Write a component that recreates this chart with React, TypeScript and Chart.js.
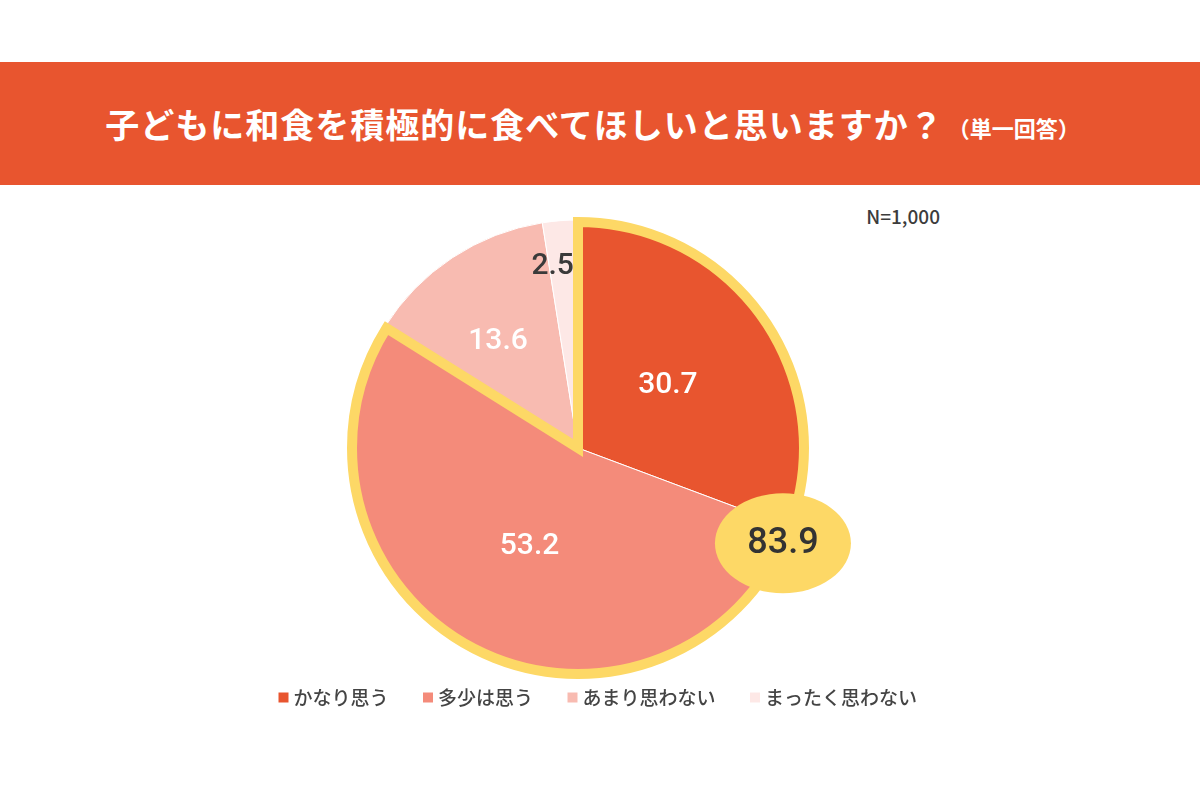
import React, { useEffect, useRef } from "react";
import { Chart, registerables } from "chart.js";

Chart.register(...registerables);

const categories = ["かなり思う", "多少は思う", "あまり思わない", "まったく思わない"];
const values = [30.7, 53.2, 13.6, 2.5];
const sliceColors = ["#E8552F", "#F48B7A", "#F8BBB1", "#FDE8E6"];
const labelColors = ["#ffffff", "#ffffff", "#ffffff", "#3a3a3a"];
const highlightIndices = [0, 1];
const titleText = "子どもに和食を積極的に食べてほしいと思いますか？";
const subTitleText = "（単一回答）";
const sampleText = "N=1,000";

const YELLOW = "#FDD866";
const HEADER = "#E8552F";
const LABEL_RADIUS = [0.48, 0.48, 0.62, 0.8];
const LABEL_SHIFT = [
  [0, 0],
  [0, 0],
  [-2, 11],
  [-11, 0],
];

const overlayPlugin = {
  id: "overlay",
  afterDatasetsDraw(chart: any) {
    const meta = chart.getDatasetMeta(0);
    const arcs = meta.data as any[];
    if (!arcs.length) return;
    const ctx: CanvasRenderingContext2D = chart.ctx;
    const first = arcs[highlightIndices[0]];
    const last = arcs[highlightIndices[highlightIndices.length - 1]];
    const x = first.x;
    const y = first.y;
    const R = first.outerRadius;
    const start = first.startAngle;
    const end = last.endAngle;

    ctx.save();
    // combined yellow outline
    const r2 = R - 2;
    ctx.beginPath();
    ctx.moveTo(x, y);
    ctx.lineTo(x + Math.cos(start) * r2, y + Math.sin(start) * r2);
    ctx.arc(x, y, r2, start, end);
    ctx.closePath();
    ctx.strokeStyle = YELLOW;
    ctx.lineWidth = 10;
    ctx.lineJoin = "miter";
    ctx.miterLimit = 10;
    ctx.stroke();

    // value labels
    ctx.textAlign = "center";
    ctx.textBaseline = "middle";
    ctx.font = "500 30px Roboto";
    arcs.forEach((arc, i) => {
      const mid = (arc.startAngle + arc.endAngle) / 2;
      const rr = arc.outerRadius * LABEL_RADIUS[i];
      const lx = x + Math.cos(mid) * rr + LABEL_SHIFT[i][0];
      const ly = y + Math.sin(mid) * rr + LABEL_SHIFT[i][1];
      ctx.fillStyle = labelColors[i];
      ctx.fillText(values[i].toFixed(1), lx, ly);
    });

    // total bubble at the boundary between the highlighted slices
    const total = highlightIndices.reduce((s, i) => s + values[i], 0);
    const ba = first.endAngle + 0.077;
    const bx = x + Math.cos(ba) * (R - 2);
    const by = y + Math.sin(ba) * (R - 2);
    ctx.beginPath();
    ctx.ellipse(bx, by, 68, 50, 0, 0, Math.PI * 2);
    ctx.fillStyle = YELLOW;
    ctx.fill();
    ctx.fillStyle = "#333333";
    ctx.font = "500 36px Roboto";
    ctx.fillText(total.toFixed(1), bx, by + 1);
    ctx.restore();
  },
};

export default function App() {
  const canvasRef = useRef<HTMLCanvasElement | null>(null);

  useEffect(() => {
    if (!canvasRef.current) return;
    const chart = new Chart(canvasRef.current, {
      type: "pie",
      data: {
        labels: categories,
        datasets: [
          {
            data: values,
            backgroundColor: sliceColors,
            borderColor: "#ffffff",
            borderWidth: 1,
          },
        ],
      },
      options: {
        animation: false,
        responsive: true,
        maintainAspectRatio: false,
        radius: 228,
        layout: { padding: { top: 47, left: 0, right: 0, bottom: 0 } },
        plugins: {
          tooltip: { enabled: false },
          title: {
            display: true,
            position: "right",
            text: "",
            fullSize: false,
            font: { size: 20, lineHeight: 1.2 },
            padding: 10,
          },
          legend: {
            position: "bottom",
            labels: {
              usePointStyle: true,
              boxWidth: 1,
              boxHeight: 10,
              padding: 39,
              color: "#444444",
              font: { family: "'Noto Sans CJK JP'", size: 19, weight: 500 as any },
              generateLabels: () =>
                categories.map((c, i) => ({
                  text: c,
                  fillStyle: sliceColors[i],
                  strokeStyle: sliceColors[i],
                  lineWidth: 0,
                  pointStyle: "rect",
                  hidden: false,
                  index: i,
                  fontColor: "#444444",
                })),
            },
          },
        },
      },
      plugins: [overlayPlugin],
    });
    return () => chart.destroy();
  }, []);

  return (
    <div
      style={{
        position: "absolute",
        left: 0,
        top: 0,
        width: 1200,
        height: 800,
        background: "#ffffff",
        overflow: "hidden",
        fontFamily: "'Noto Sans CJK JP', sans-serif",
      }}
    >
      <div
        style={{
          position: "absolute",
          left: 0,
          top: 62,
          width: 1200,
          height: 123,
          background: HEADER,
          display: "flex",
          alignItems: "center",
          justifyContent: "center",
          paddingRight: 15,
          boxSizing: "border-box",
          color: "#ffffff",
          fontWeight: 700,
        }}
      >
        <span style={{ fontSize: 34, letterSpacing: 1, lineHeight: 1 }}>{titleText}</span>
        <span style={{ fontSize: 22, lineHeight: 1, marginLeft: 4, marginTop: 6 }}>{subTitleText}</span>
      </div>
      <div
        style={{
          position: "absolute",
          right: 260,
          top: 204,
          fontSize: 19,
          fontWeight: 500,
          color: "#3c3c3c",
          lineHeight: "24px",
        }}
      >
        {sampleText}
      </div>
      <div style={{ position: "absolute", left: 0, top: 200, width: 1200, height: 517 }}>
        <canvas ref={canvasRef} />
      </div>
    </div>
  );
}
